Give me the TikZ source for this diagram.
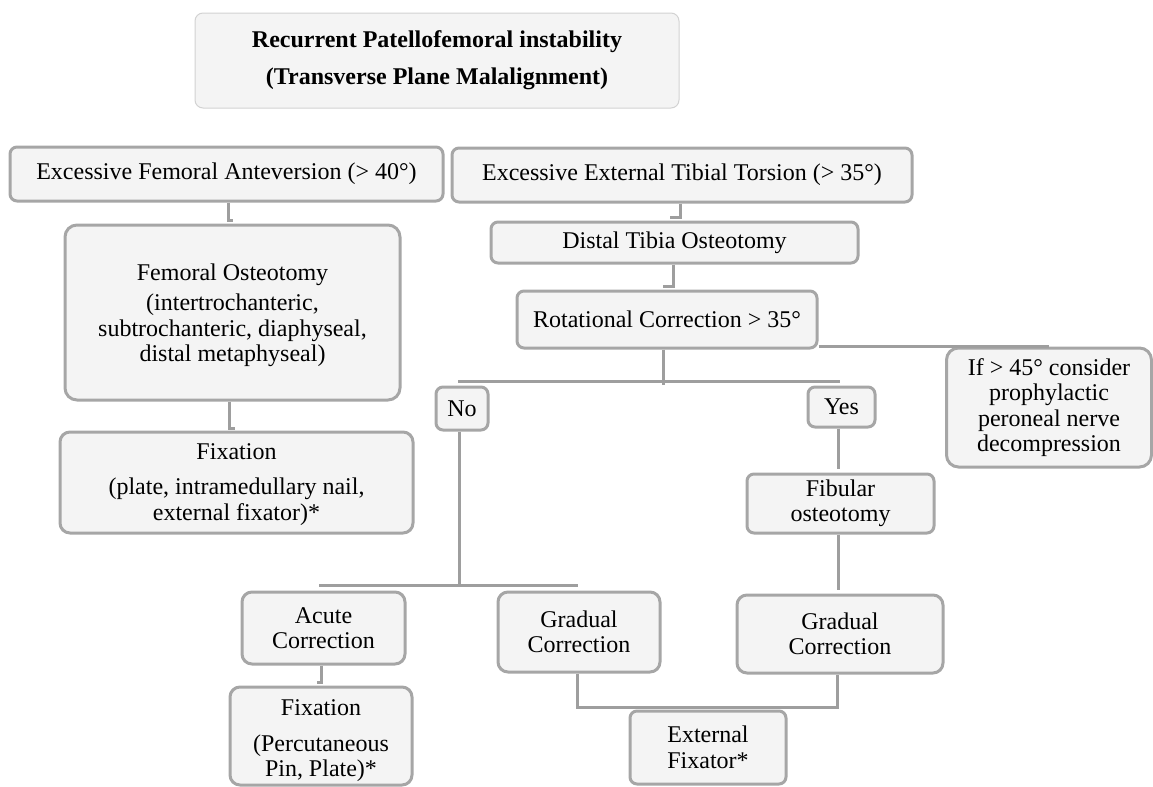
\documentclass[tikz,border=0pt]{standalone}
\usepackage{fontspec}
\setmainfont{Liberation Serif}
\usetikzlibrary{calc}
\definecolor{boxfill}{HTML}{F4F4F4}
\definecolor{boxline}{HTML}{A6A6A6}
\definecolor{connline}{HTML}{9E9E9E}
\definecolor{titleline}{HTML}{D2D2D2}
\tikzset{
  box/.style={draw=boxline, fill=boxfill, line width=1.5pt, rounded corners=3.5pt,
    align=center, inner sep=0pt, font=\fontsize{12}{12.75}\selectfont},
  conn/.style={draw=connline, line width=1.5pt},
}
\begin{document}
\begin{tikzpicture}[x=0.5pt,y=-0.5pt]
\useasboundingbox (0,0) rectangle (1153,787);
% title
\node[draw=titleline, fill=boxfill, line width=0.5pt, rounded corners=4pt, align=center, inner sep=0pt,
  minimum width=242pt, minimum height=47.5pt, font=\fontsize{12}{18.5}\selectfont\bfseries]
  (title) at (437,60.5) {Recurrent Patellofemoral instability\\(Transverse Plane Malalignment)};
% left branch
\node[box, minimum width=216.5pt, minimum height=27pt] (fem) at (226.5,174) {Excessive Femoral Anteversion (> 40°)};
\node[box, rounded corners=6pt, minimum width=167.5pt, minimum height=87.5pt] (femost) at (232.5,312.5)
  {\rule{0pt}{11pt}Femoral Osteotomy\\[2.5pt](intertrochanteric,\\subtrochanteric, diaphyseal,\\distal metaphyseal)};
\node[box, rounded corners=5pt, minimum width=176.5pt, minimum height=50.5pt] (fixa) at (236.5,482.5)
  {\rule{0pt}{10pt}Fixation\\[5pt](plate, intramedullary nail,\\external fixator)*};
% right branch
\node[box, minimum width=230pt, minimum height=27pt] (tib) at (682,175) {Excessive External Tibial Torsion (> 35°)};
\node[box, minimum width=183.5pt, minimum height=20.5pt] (dist) at (674.5,242.5) {Distal Tibia Osteotomy};
\node[box, minimum width=150pt, minimum height=28.5pt] (rot) at (667,319.5) {Rotational Correction > 35°};
\node[box, minimum width=26pt, minimum height=21.5pt] (no) at (462,408.5) {No};
\node[box, minimum width=33.5pt, minimum height=20pt] (yes) at (841.5,407) {Yes};
\node[box, rounded corners=6pt, minimum width=102.5pt, minimum height=59.5pt] (note) at (1049,407.5)
  {If > 45° consider\\prophylactic\\peroneal nerve\\decompression};
\node[box, minimum width=93.5pt, minimum height=29.5pt] (fib) at (840.5,503.5) {Fibular\\osteotomy};
\node[box, rounded corners=5pt, minimum width=103pt, minimum height=39pt] (gradb) at (840,634) {Gradual\\Correction};
\node[box, rounded corners=5pt, minimum width=81.5pt, minimum height=36pt] (acute) at (323.5,628) {Acute\\Correction};
\node[box, rounded corners=5pt, minimum width=91pt, minimum height=49pt] (fixb) at (321,736)
  {\rule{0pt}{13pt}Fixation\\[5pt](Percutaneous\\Pin, Plate)*};
\node[box, rounded corners=5pt, minimum width=81pt, minimum height=40pt] (grada) at (579,632) {Gradual\\Correction};
\node[box, minimum width=78pt, minimum height=36.5pt] (ext) at (708,747.5) {External\\Fixator*};
% connectors
\draw[conn] ($(fem.south)+(1.5,0)$) -- ++(0,18) -- ++(5,0);
\draw[conn] ($(femost.south)+(-3.5,0)$) -- ++(0,27) -- ++(6,0);
\draw[conn] ($(tib.south)+(-2,0)$) -- ++(0,14) -- ++(-10,0);
\draw[conn] ($(dist.south)+(-1.5,0)$) -- ++(0,22) -- ++(-10,0);
\draw[conn] ($(rot.south)+(-4,0)$) -- ++(0,35);
\draw[conn] ($(no.north)+(-4,-4)$) -- ($(yes.north)+(-1.5,-4)$);
\draw[conn] ($(rot.south east)+(0,-3)$) -| (note.north);
\draw[conn] ($(no.south)+(-3,0)$) -- ($(acute.north)+(135.5,-5)$);
\draw[conn] ($(acute.north)+(-4.5,-5)$) -- ($(grada.north)+(-1,-5)$);
\draw[conn] ($(yes.south)+(-3.5,0)$) -- ($(fib.north)+(-2.5,-4)$);
\draw[conn] ($(fib.south)+(-2.5,0)$) -- ($(gradb.north)+(-2,-4)$);
\draw[conn] ($(acute.south)+(-2.5,0)$) -- ++(0,17) -- ++(-4,0);
\draw[conn] ($(grada.south)+(-2,0)$) |- ($(gradb.south)+(-3,33)$) -- ($(gradb.south)+(-3,0)$);
\end{tikzpicture}
\end{document}
